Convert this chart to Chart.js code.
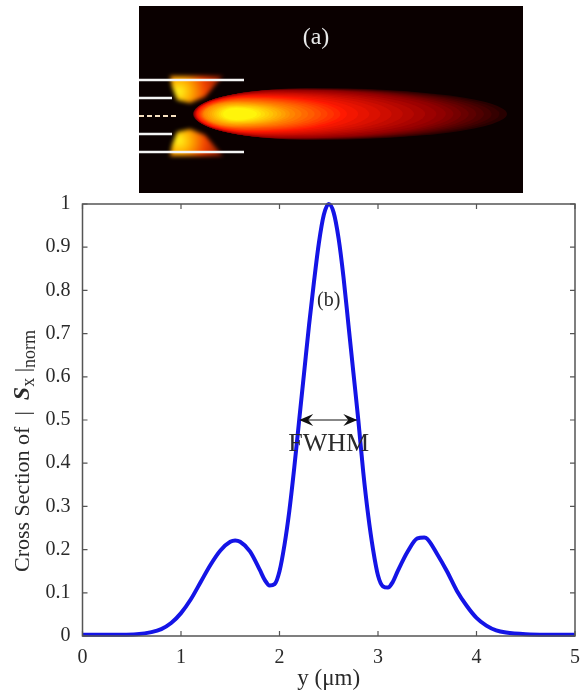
<!DOCTYPE html>
<html><head><meta charset="utf-8">
<script src="https://cdn.jsdelivr.net/npm/chart.js@4"></script>
<style>html,body{margin:0;padding:0;background:#fff;width:582px;height:693px;overflow:hidden}
canvas{position:absolute;display:block}</style></head>
<body>
<canvas id="main" width="582" height="693" style="left:0;top:0"></canvas>
<canvas id="field" width="416" height="187" style="left:107px;top:6px"></canvas>
<script>
// Panel (b): cross section
const yPositions=[0,.2,.4,.55,.7,.8,.9,1,1.1,1.2,1.3,1.4,1.5,1.55,1.6,1.7,1.8,1.85,1.9,1.95,2,2.05,2.1,2.15,2.2,2.25,2.3,2.35,2.4,2.45,2.5,2.55,2.6,2.65,2.7,2.75,2.8,2.85,2.9,2.95,3,3.05,3.1,3.15,3.2,3.3,3.4,3.47,3.5,3.6,3.7,3.8,3.9,4,4.1,4.2,4.3,4.5,4.7,5];
const crossSection=[.003,.003,.003,.004,.009,.016,.03,.053,.085,.125,.165,.198,.218,.221,.218,.196,.153,.13,.117,.12,.15,.21,.29,.39,.5,.61,.72,.82,.91,.975,1,.98,.92,.83,.72,.61,.5,.38,.28,.2,.14,.115,.112,.125,.15,.195,.226,.228,.225,.19,.15,.105,.07,.042,.024,.013,.008,.004,.003,.003];
const xTickLabels=["0","1","2","3","4","5"];
const yTickLabels=["0","0.1","0.2","0.3","0.4","0.5","0.6","0.7","0.8","0.9","1"];
const fwhmX=[2.2,2.79];
const fwhmY=[.5,.5];
// Panel (a): field map, in image units
const slitY=[74,92,128,146];
const slitEnd=[137,65,65,137];
const centreSlitY=[110];
const stripeY=[0,20,40,60,75,90,110,130,145,160,175,187];
const stripeA=[2,3,1,3,2,4,-4,4,2,3,1,2];
const stripeB=[11,12,10,12,10,13,9,13,10,12,10,11];
const stripeC=[22,21,24,22,24,20,24,20,24,22,24,22];
const plumeT=[0,.25,.5,.75,1];
const plumeLeft=[86,87,90,97,116];
const plumeRight=[400,335,240,185,150];
const plumeHalf=[26,24,18,12,6];
const lobeTopX=[63,116,98,83,70,65];
const lobeTopY=[70,70,91,97,94,81];
const lobeBotY=[150,150,129,123,126,139];

const serif='"Liberation Serif"';
const ink='#2a2a2a';
const axisGray='#555';

function hot(t){
  const stops=[[0,40,0,0],[.25,150,0,0],[.5,255,25,0],[.75,255,140,0],[1,255,245,10]];
  for(let i=1;i<stops.length;i++){ if(t<=stops[i][0]){
    const a=stops[i-1],b=stops[i],f=(t-a[0])/(b[0]-a[0]);
    return `rgb(${[1,2,3].map(k=>Math.round(a[k]+(b[k]-a[k])*f)).join(',')})`;}}
  return 'rgb(255,245,10)';
}
function lerpList(ts,vs,t){for(let i=1;i<ts.length;i++){if(t<=ts[i]){const f=(t-ts[i-1])/(ts[i]-ts[i-1]);return vs[i-1]+(vs[i]-vs[i-1])*f;}}return vs[vs.length-1];}

const frame={id:'frame',afterDatasetsDraw(c){
  const {ctx,chartArea:a,scales:{x,y}}=c;
  ctx.save();ctx.strokeStyle=axisGray;ctx.lineWidth=1.5;
  ctx.strokeRect(a.left,a.top,a.right-a.left,a.bottom-a.top);
  ctx.lineWidth=1.2;ctx.beginPath();
  x.ticks.forEach(t=>{const p=x.getPixelForValue(t.value);ctx.moveTo(p,a.bottom);ctx.lineTo(p,a.bottom-5);ctx.moveTo(p,a.top);ctx.lineTo(p,a.top+5);});
  y.ticks.forEach(t=>{const p=y.getPixelForValue(t.value);ctx.moveTo(a.left,p);ctx.lineTo(a.left+5,p);ctx.moveTo(a.right,p);ctx.lineTo(a.right-5,p);});
  ctx.stroke();
  // FWHM arrow heads
  const py=y.getPixelForValue(fwhmY[0]),l=x.getPixelForValue(fwhmX[0]),r=x.getPixelForValue(fwhmX[1]);
  ctx.fillStyle='#111';
  [[l,1],[r,-1]].forEach(([p,d])=>{ctx.beginPath();ctx.moveTo(p,py);ctx.lineTo(p+d*14,py-6);ctx.lineTo(p+d*9,py);ctx.lineTo(p+d*14,py+6);ctx.closePath();ctx.fill();});
  // Annotations
  ctx.fillStyle=ink;ctx.textAlign='center';ctx.textBaseline='alphabetic';
  ctx.font='20px '+serif;ctx.fillText('(b)',x.getPixelForValue(2.5),y.getPixelForValue(.765));
  ctx.font='26px '+serif;ctx.fillText('FWHM',x.getPixelForValue(2.5),y.getPixelForValue(.428));
  // Y axis title with sub-scripts
  ctx.save();ctx.translate(29,572);ctx.rotate(-Math.PI/2);ctx.textAlign='left';
  const runs=[['Cross Section of  |  ','22px '+serif,0],['S','italic bold 24px '+serif,0],['x','18px '+serif,5],[' |','22px '+serif,0],['norm','18px '+serif,6]];
  let cx=0;runs.forEach(([s,f,dy])=>{ctx.font=f;ctx.fillText(s,cx,dy);cx+=ctx.measureText(s).width;});
  ctx.restore();ctx.restore();
}};

new Chart(document.getElementById('main'),{type:'line',plugins:[frame],
 data:{datasets:[
  {data:yPositions.map((v,i)=>({x:v,y:crossSection[i]})),borderColor:'#1414e6',borderWidth:4,pointRadius:0,cubicInterpolationMode:'monotone',clip:false},
  {data:fwhmX.map((v,i)=>({x:v,y:fwhmY[i]})),borderColor:'#111',borderWidth:1,pointRadius:0}
 ]},
 options:{responsive:false,animation:false,devicePixelRatio:1,
  layout:{padding:{top:204,right:4.5,left:0,bottom:0}},
  plugins:{legend:{display:false},tooltip:{enabled:false}},
  scales:{
   x:{type:'linear',min:0,max:5,grid:{display:false},border:{display:false},
     afterFit(s){s.height=57;},
     afterBuildTicks(s){s.ticks=xTickLabels.map(v=>({value:+v}));},
     ticks:{color:ink,font:{family:serif,size:20},padding:2,maxRotation:0,autoSkip:false,callback:v=>String(v)},
     title:{display:true,text:'y (μm)',color:ink,font:{family:serif,size:23},padding:{top:0,bottom:0}}},
   y:{type:'linear',min:0,max:1,grid:{display:false},border:{display:false},
     afterFit(s){s.width=82.5;},
     afterBuildTicks(s){s.ticks=yTickLabels.map(v=>({value:+v}));},
     ticks:{color:ink,font:{family:serif,size:20},padding:4,autoSkip:false,callback:v=>String(v)}}
  }}});

const fieldPaint={id:'fieldPaint',beforeDatasetsDraw(c){
  const {ctx,scales:{x,y},chartArea:a}=c;
  ctx.save();
  ctx.fillStyle='#0a0000';ctx.fillRect(a.left,a.top,a.right-a.left,a.bottom-a.top);
  ctx.fillStyle='#fff';ctx.fillRect(x.getPixelForValue(0),a.top,x.getPixelForValue(32)-x.getPixelForValue(0),a.bottom-a.top);
  // side lobes
  ctx.filter='blur(2px)';
  [lobeTopY,lobeBotY].forEach(ly=>{
    const cy=(ly[3]+ly[0])/2+ (ly===lobeTopY?2:-2);
    const g=ctx.createRadialGradient(x.getPixelForValue(72),y.getPixelForValue(cy),1,x.getPixelForValue(72),y.getPixelForValue(cy),48);
    g.addColorStop(0,'#fff01a');g.addColorStop(.22,'#ffb000');g.addColorStop(.55,'#f04000');g.addColorStop(1,'#701000');
    ctx.fillStyle=g;ctx.beginPath();
    lobeTopX.forEach((v,i)=>{const px=x.getPixelForValue(v),py=y.getPixelForValue(ly[i]);i?ctx.lineTo(px,py):ctx.moveTo(px,py);});
    ctx.closePath();ctx.fill();
  });
  // main plume, nested contours
  ctx.filter='blur(0.6px)';
  const n=34,cy=y.getPixelForValue(108);
  for(let i=0;i<=n;i++){
    const t=i/n,L=x.getPixelForValue(lerpList(plumeT,plumeLeft,t)),R=x.getPixelForValue(lerpList(plumeT,plumeRight,t));
    const h=Math.abs(y.getPixelForValue(0)-y.getPixelForValue(lerpList(plumeT,plumeHalf,t)));
    const P=L+(R-L)*.38;
    ctx.fillStyle=hot(t);ctx.beginPath();
    ctx.ellipse(P,cy,P-L,h,0,Math.PI/2,Math.PI*1.5);
    ctx.ellipse(P,cy,R-P,h,0,-Math.PI/2,Math.PI/2);
    ctx.closePath();ctx.fill();
  }
  ctx.restore();
},afterDatasetsDraw(c){
  const {ctx,scales:{x,y}}=c;
  ctx.save();ctx.fillStyle='#e8e8e8';ctx.textAlign='center';ctx.font='24px '+serif;
  ctx.fillText('(a)',x.getPixelForValue(209),y.getPixelForValue(38));
  ctx.restore();
}};
const stripe=(xs,color,w)=>({data:xs.map((v,i)=>({x:v,y:stripeY[i]})),borderColor:color,borderWidth:w,pointRadius:0,tension:.4});
new Chart(document.getElementById('field'),{type:'scatter',plugins:[fieldPaint],
 data:{datasets:[
  stripe(stripeA,'#f5b000',3),stripe(stripeB,'#f5b000',3),stripe(stripeC,'#f5b000',3),
  stripe(stripeA,'#7a1000',1),stripe(stripeB,'#7a1000',1.3),stripe(stripeC,'#b03000',1),
  ...slitY.map((v,i)=>({showLine:true,data:[{x:32,y:v},{x:slitEnd[i]-(i==0||i==3?72-72:0),y:v}],borderColor:'#f4f4f4',borderWidth:2.5,pointRadius:0})),
  {showLine:true,data:[{x:32,y:centreSlitY[0]},{x:70,y:centreSlitY[0]}],borderColor:'#f8e0c0',borderWidth:2,borderDash:[5,3],pointRadius:0}
 ]},
 options:{responsive:false,animation:false,devicePixelRatio:1,layout:{padding:0},
  plugins:{legend:{display:false},tooltip:{enabled:false}},
  scales:{x:{type:'linear',min:0,max:416,display:false},y:{type:'linear',min:0,max:187,reverse:true,display:false}}}});
</script></body></html>
